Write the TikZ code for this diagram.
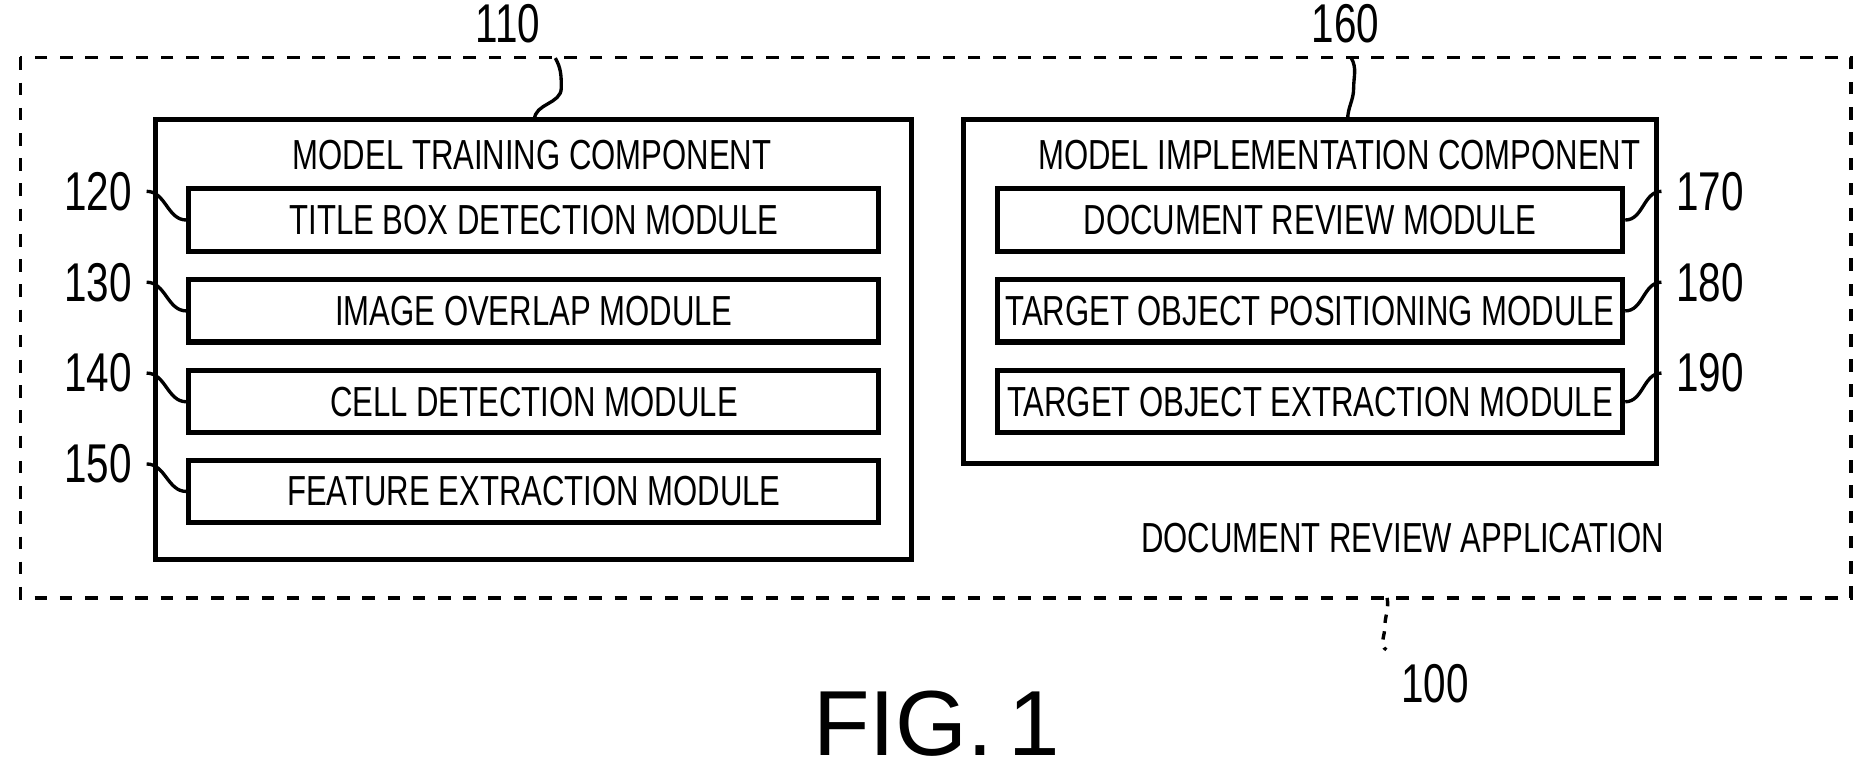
\documentclass[tikz,border=0pt]{standalone}
\usepackage{fontspec}
\setmainfont[FakeStretch=0.74]{Liberation Sans}
\newfontfamily\figfont{Liberation Sans}
\usetikzlibrary{positioning}
\begin{document}
\begin{tikzpicture}[
  every node/.style = {font=\fontsize{10pt}{11pt}\selectfont},
  module/.style = {draw, line width=1.2pt, minimum height=0.52cm, inner sep=0pt, align=center},
  frame/.style = {draw, line width=1.2pt},
  leader/.style = {line width=0.8pt},
  refnum/.style = {font=\fontsize{13pt}{14pt}\selectfont}
]
\useasboundingbox (0,0) rectangle (15.68,-6.506);

% Outer application frame
\draw[dashed, line width=0.8pt] (0.17,-0.48) rectangle (15.48,-5.0);
\node (app) at (11.73,-4.5) {DOCUMENT REVIEW APPLICATION};

% Left component
\draw[frame] (1.30,-1.00) rectangle (7.62,-4.68);
\coordinate (ltop) at (4.47,-1.00);
\node (ltitle) at (4.45,-1.30) {MODEL TRAINING COMPONENT};
\node[module, minimum width=5.77cm] (m120) at (4.465,-1.84) {TITLE BOX DETECTION MODULE};
\node[module, minimum width=5.77cm] (m130) at (4.465,-2.60) {IMAGE OVERLAP MODULE};
\node[module, minimum width=5.77cm] (m140) at (4.465,-3.36) {CELL DETECTION MODULE};
\node[module, minimum width=5.77cm] (m150) at (4.465,-4.11) {FEATURE EXTRACTION MODULE};

% Right component
\draw[frame] (8.06,-1.00) rectangle (13.85,-3.88);
\coordinate (rtop) at (11.27,-1.00);
\node (rtitle) at (11.20,-1.30) {MODEL IMPLEMENTATION COMPONENT};
\node[module, minimum width=5.23cm] (m170) at (10.955,-1.84) {DOCUMENT REVIEW MODULE};
\node[module, minimum width=5.23cm] (m180) at (10.955,-2.60) {TARGET OBJECT POSITIONING MODULE};
\node[module, minimum width=5.23cm] (m190) at (10.955,-3.36) {TARGET OBJECT EXTRACTION MODULE};

% Reference numerals
\node[refnum] (n110) at (4.25,-0.20) {110};
\node[refnum] (n160) at (11.25,-0.20) {160};
\node[refnum] (n120) at (0.82,-1.60) {120};
\node[refnum] (n130) at (0.82,-2.36) {130};
\node[refnum] (n140) at (0.82,-3.12) {140};
\node[refnum] (n150) at (0.82,-3.88) {150};
\node[refnum] (n170) at (14.30,-1.60) {170};
\node[refnum] (n180) at (14.30,-2.36) {180};
\node[refnum] (n190) at (14.30,-3.12) {190};
\node[refnum] (n100) at (12.00,-5.72) {100};
\node[font=\figfont\fontsize{22pt}{24pt}\selectfont] (fig) at (7.83,-6.05) {FIG.\,1};

% Leaders
\draw[leader] (n110.south east) to[out=-60,in=90] ++(0.05,-0.25) to[out=-90,in=90] (ltop);
\draw[leader] (n160.south) ++(0.05,0) to[out=-60,in=90] ++(0.02,-0.25) to[out=-90,in=90] (rtop);
\foreach \n in {120,130,140,150}
  \draw[leader] (n\n.east) to[out=0,in=180] (m\n.west);
\foreach \n in {170,180,190}
  \draw[leader] (m\n.east) to[out=0,in=180] (n\n.west);
\draw[leader, dash pattern=on 2pt off 2pt] (11.60,-5.0) to[out=-80,in=90] ++(-0.02,-0.25) to[out=-90,in=150] (n100.north west);
\end{tikzpicture}
\end{document}
